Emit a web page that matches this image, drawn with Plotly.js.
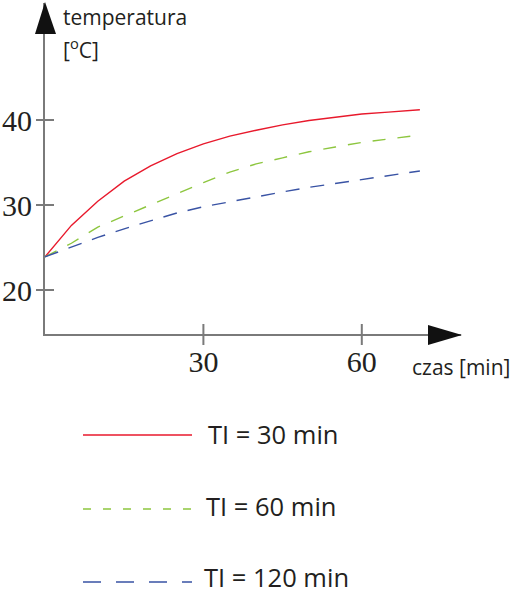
<!DOCTYPE html>
<html>
<head>
<meta charset="utf-8">
<script src="https://cdn.plot.ly/plotly-3.0.1.min.js"></script>
<style>
  html, body { margin: 0; padding: 0; background: #fff; }
  #chart { width: 511px; height: 593px; }
</style>
</head>
<body>
<div id="chart"></div>
<script>
// values
const time = [0, 5, 10, 15, 20, 25, 30, 35, 40, 45, 50, 55, 60, 65, 71];
const tempTI30 = [23.9, 27.6, 30.45, 32.8, 34.6, 36.05, 37.2, 38.1, 38.8, 39.43, 39.94, 40.36, 40.7, 40.93, 41.2];
const tempTI60 = [23.9, 25.5, 27.4, 28.72, 30.02, 31.35, 32.64, 33.87, 34.84, 35.55, 36.26, 36.83, 37.36, 37.76, 38.23];
const tempTI120 = [23.9, 25.05, 26.19, 27.2, 28.18, 29.07, 29.79, 30.4, 30.99, 31.54, 32.08, 32.54, 32.98, 33.43, 34.0];

const xTicks = [30, 60];
const yTicks = [20, 30, 40];
const seriesNames = ['TI = 30 min', 'TI = 60 min', 'TI = 120 min'];

const COLORS = {
  red: '#e8192c',
  green: '#8dc63f',
  blue: '#3953a4',
  axis: '#7a7a7a',
  arrow: '#111111',
  text: '#231f20',
};

// page geometry (pixels) of the plot area
const W = 511, H = 593;
const M = { l: 45, r: 50, t: 3, b: 259 };
const plotW = W - M.l - M.r;
const plotH = H - M.t - M.b;
const px2x = (px) => (px - M.l) / plotW;
const py2y = (py) => (H - M.b - py) / plotH;

const traces = [
  { x: time, y: tempTI30, name: seriesNames[0], line: { color: COLORS.red, width: 1.4 } },
  { x: time, y: tempTI60, name: seriesNames[1], line: { color: COLORS.green, width: 1.4, dash: '13px,12px' } },
  { x: time, y: tempTI120, name: seriesNames[2], line: { color: COLORS.blue, width: 1.4, dash: '14px,11px' } },
].map((t) => Object.assign({ type: 'scatter', mode: 'lines', hoverinfo: 'skip' }, t));

const shapes = [];
// crossing tick marks
xTicks.forEach((v) => shapes.push({
  type: 'line', xref: 'x', yref: 'paper', x0: v, x1: v, y0: py2y(324), y1: py2y(345),
  line: { color: COLORS.axis, width: 2 },
}));
yTicks.forEach((v) => shapes.push({
  type: 'line', xref: 'paper', yref: 'y', y0: v, y1: v, x0: px2x(36), x1: px2x(54),
  line: { color: COLORS.axis, width: 2 },
}));
// arrow heads
shapes.push({
  type: 'path', xref: 'paper', yref: 'paper',
  path: `M ${px2x(45)} ${py2y(2)} L ${px2x(56)} ${py2y(34)} L ${px2x(35)} ${py2y(34)} Z`,
  fillcolor: COLORS.arrow, line: { width: 0 },
});
shapes.push({
  type: 'path', xref: 'paper', yref: 'paper',
  path: `M ${px2x(462)} ${py2y(335)} L ${px2x(428)} ${py2y(325)} L ${px2x(428)} ${py2y(345)} Z`,
  fillcolor: COLORS.arrow, line: { width: 0 },
});

// hand-placed legend
const legendRows = [
  { y: 435, textY: 434, textX: 206, dash: 'solid' },
  { y: 509, textY: 506, textX: 204, dash: '8px,12px' },
  { y: 582, textY: 577, textX: 202, dash: '18px,15px' },
];
const annotations = [];
legendRows.forEach((row, i) => {
  shapes.push({
    type: 'line', xref: 'paper', yref: 'paper',
    x0: px2x(83), x1: px2x(192), y0: py2y(row.y), y1: py2y(row.y),
    line: { color: traces[i].line.color, width: 1.4, dash: row.dash },
  });
  annotations.push({
    text: seriesNames[i], xref: 'paper', yref: 'paper',
    x: px2x(row.textX), y: py2y(row.textY), xanchor: 'left', yanchor: 'middle',
    showarrow: false, font: { family: 'Open Sans', size: 25.5, color: COLORS.text },
  });
});

const titleFont = { family: 'Open Sans', size: 21, color: COLORS.text };
annotations.push({
  text: 'temperatura', xref: 'paper', yref: 'paper',
  x: px2x(61), y: py2y(1), xanchor: 'left', yanchor: 'top',
  showarrow: false, font: titleFont,
});
annotations.push({
  text: '[<sup>o</sup>C]', xref: 'paper', yref: 'paper',
  x: px2x(61), y: py2y(31), xanchor: 'left', yanchor: 'top',
  showarrow: false, font: titleFont,
});
annotations.push({
  text: 'czas [min]', xref: 'paper', yref: 'paper',
  x: px2x(410), y: py2y(351), xanchor: 'left', yanchor: 'top',
  showarrow: false, font: titleFont,
});

const axisCommon = {
  showgrid: false,
  zeroline: false,
  showline: true,
  linecolor: COLORS.axis,
  linewidth: 2,
  ticks: '',
  tickfont: { family: 'Liberation Serif', size: 30, color: COLORS.text },
  fixedrange: true,
};

const layout = {
  width: W,
  height: H,
  margin: M,
  showlegend: false,
  paper_bgcolor: '#ffffff',
  plot_bgcolor: '#ffffff',
  xaxis: Object.assign({}, axisCommon, {
    range: [0, plotW / 5.28],
    tickvals: xTicks,
    ticktext: xTicks.map(String),
    ticklabelstandoff: 0,
  }),
  yaxis: Object.assign({}, axisCommon, {
    range: [20 - 44 / 8.5, 20 + 287 / 8.5],
    tickvals: yTicks,
    ticktext: yTicks.map(String),
    ticklabelstandoff: 5,
  }),
  shapes: shapes,
  annotations: annotations,
};

Plotly.newPlot('chart', traces, layout, { staticPlot: true, displayModeBar: false });
</script>
</body>
</html>
